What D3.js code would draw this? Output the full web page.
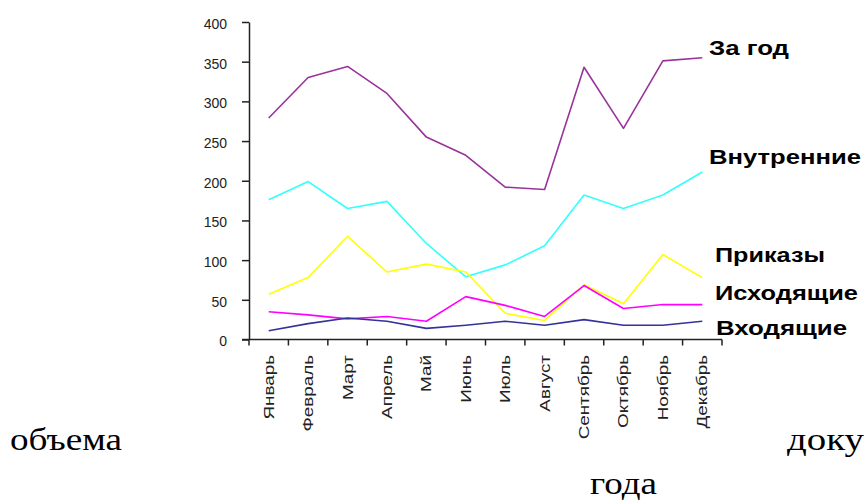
<!DOCTYPE html>
<html>
<head>
<meta charset="utf-8">
<script src="https://cdn.jsdelivr.net/npm/d3@7"></script>
<style>
  html, body { margin: 0; padding: 0; background: #fff; }
  svg { display: block; }
</style>
</head>
<body>
<svg id="chart" width="864" height="502"></svg>
<script>
// ---- data ----
const months = ["Январь","Февраль","Март","Апрель","Май","Июнь","Июль","Август","Сентябрь","Октябрь","Ноябрь","Декабрь"];
const yTicks = [0, 50, 100, 150, 200, 250, 300, 350, 400];
const seriesNames = ["За год", "Внутренние", "Приказы", "Исходящие", "Входящие"];
const zaGod      = [279, 330, 344, 310, 255, 232, 192, 189, 343, 266, 351, 355];
const vnutrennie = [176, 199, 165, 174, 121, 79, 94, 118, 182, 165, 182, 211];
const prikazy    = [57, 78, 130, 85, 95, 85, 33, 24, 69, 45, 107, 78];
const iskhodyash = [35, 31, 26, 29, 23, 54, 43, 29, 68, 39, 44, 44];
const vkhodyash  = [11, 20, 27, 23, 14, 18, 23, 18, 25, 18, 18, 23];
const bottomWords = ["объема", "доку", "года"];

// ---- layout / style ----
const colors = ["#993399", "#33FFFF", "#FFFF00", "#FF00FF", "#333399"];
const labelLayout = [
  {x: 709, y: 55,  w: 80},
  {x: 709, y: 164, w: 152},
  {x: 715, y: 262, w: 110},
  {x: 715, y: 300, w: 143},
  {x: 716, y: 335, w: 131}
];
const seriesValues = [zaGod, vnutrennie, prikazy, iskhodyash, vkhodyash];

const svg = d3.select("#chart");
const x = d3.scaleBand().domain(months).range([249, 722]);
const y = d3.scaleLinear().domain([0, 400]).range([339.5, 22]);
const axisColor = "#222";

// Y axis
const yAxis = d3.axisLeft(y).tickValues(yTicks).tickSize(7).tickPadding(15).tickSizeOuter(0);
const gy = svg.append("g").attr("transform", "translate(249,0)").call(yAxis);
gy.select(".domain").attr("stroke", axisColor).attr("stroke-width", 1.5);
gy.selectAll(".tick line").attr("stroke", axisColor).attr("stroke-width", 1.5);
gy.selectAll(".tick text")
  .attr("font-family", "'Liberation Sans', Arial, sans-serif")
  .attr("font-size", 14)
  .attr("fill", "#222")
  .attr("dy", "0.45em");

// X axis: ticks on category boundaries
const boundaries = months.map(m => x(m)).concat([x.range()[1]]);
const gx = svg.append("g");
gx.append("line")
  .attr("x1", 242).attr("x2", 722)
  .attr("y1", y(0)).attr("y2", y(0))
  .attr("stroke", axisColor).attr("stroke-width", 1.5);
gx.selectAll("line.tk").data(boundaries).join("line")
  .attr("class", "tk")
  .attr("x1", d => d).attr("x2", d => d)
  .attr("y1", y(0)).attr("y2", y(0) + 6)
  .attr("stroke", axisColor).attr("stroke-width", 1.5);
gx.selectAll("text").data(months).join("text")
  .attr("transform", d => `translate(${x(d) + x.bandwidth() / 2 + 5},355) rotate(-90) scale(1.3,1)`)
  .attr("text-anchor", "end")
  .attr("font-family", "'Liberation Sans', Arial, sans-serif")
  .attr("font-size", 14.5)
  .attr("fill", "#222")
  .text(d => d);

// Lines
const line = d3.line()
  .x((d, i) => x(months[i]) + x.bandwidth() / 2)
  .y(d => y(d));
svg.append("g").selectAll("path").data(seriesValues).join("path")
  .attr("d", d => line(d))
  .attr("fill", "none")
  .attr("stroke", (d, i) => colors[i])
  .attr("stroke-width", 1.6)
  .attr("stroke-linejoin", "round");

// Series labels
svg.append("g").selectAll("text").data(seriesNames).join("text")
  .attr("x", (d, i) => labelLayout[i].x)
  .attr("y", (d, i) => labelLayout[i].y)
  .attr("textLength", (d, i) => labelLayout[i].w)
  .attr("lengthAdjust", "spacingAndGlyphs")
  .attr("font-family", "'Liberation Sans', Arial, sans-serif")
  .attr("font-weight", "bold")
  .attr("font-size", 20)
  .attr("fill", "#000")
  .text(d => d);

// Surrounding document text
const wordLayout = [
  {x: 10, y: 450, w: 112},
  {x: 787, y: 450, w: 77},
  {x: 590, y: 494, w: 67}
];
svg.append("g").selectAll("text").data(bottomWords).join("text")
  .attr("x", (d, i) => wordLayout[i].x)
  .attr("y", (d, i) => wordLayout[i].y)
  .attr("textLength", (d, i) => wordLayout[i].w)
  .attr("lengthAdjust", "spacingAndGlyphs")
  .attr("font-family", "'Liberation Serif', 'Times New Roman', serif")
  .attr("font-size", 31)
  .attr("fill", "#000")
  .text(d => d);
</script>
</body>
</html>
